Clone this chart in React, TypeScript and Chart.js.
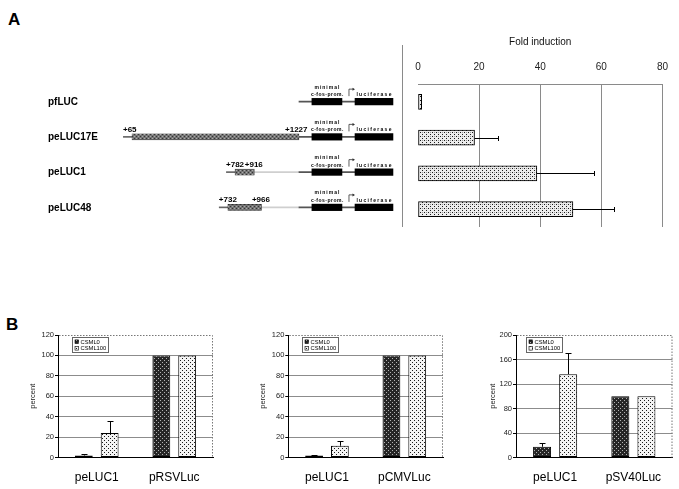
import React, { useEffect, useRef } from 'react';
import { Chart, registerables } from 'chart.js';

Chart.register(...registerables);
Chart.defaults.font.family = 'Arial, "Liberation Sans", sans-serif';

// ---------------- Panel A data ----------------
const constructs = ['pfLUC', 'peLUC17E', 'peLUC1', 'peLUC48'];
const fragmentStart: (number | null)[] = [null, 65, 782, 732];
const fragmentEnd: (number | null)[] = [null, 1227, 916, 966];
const junction = 1227; // schematic position where the insert meets the vector
const promoterSpan = [1317, 1526]; // schematic units
const luciferaseSpan = [1617, 1881]; // schematic units
const foldInduction = [1.2, 18.5, 38.9, 50.7];
const foldError = [0, 7.6, 18.8, 13.3];
const foldTicks = [0, 20, 40, 60, 80];

// ---------------- Panel B data ----------------
const seriesNames = ['CSML0', 'CSML100'];
const b1Categories = ['peLUC1', 'pRSVLuc'];
const b1CSML0 = [2, 100];
const b1CSML100 = [24, 100];
const b1Err0 = [1, 0];
const b1Err100 = [11.5, 0];

const b2Categories = ['peLUC1', 'pCMVLuc'];
const b2CSML0 = [2, 100];
const b2CSML100 = [11.5, 100];
const b2Err0 = [0.8, 0];
const b2Err100 = [5, 0];

const b3Categories = ['peLUC1', 'pSV40Luc'];
const b3CSML0 = [17.5, 100];
const b3CSML100 = [136, 100];
const b3Err0 = [5.5, 0];
const b3Err100 = [34, 0];

const percentTicks120 = [0, 20, 40, 60, 80, 100, 120];
const percentTicks200 = [0, 40, 80, 120, 160, 200];

const FONT = 'Arial, "Liberation Sans", sans-serif';

function makePattern(ctx: CanvasRenderingContext2D, bg: string, dots: [number, number, string][], size = 4) {
  const c = document.createElement('canvas');
  c.width = size;
  c.height = size;
  const g = c.getContext('2d')!;
  g.fillStyle = bg;
  g.fillRect(0, 0, size, size);
  dots.forEach(([x, y, col]) => {
    g.fillStyle = col;
    g.fillRect(x, y, 1, 1);
  });
  return ctx.createPattern(c, 'repeat')!;
}

function lightDots(ctx: CanvasRenderingContext2D) {
  return makePattern(ctx, '#f4f4f4', [[0, 0, '#1a1a1a'], [2, 2, '#1a1a1a']]);
}
function foldDots(ctx: CanvasRenderingContext2D) {
  return makePattern(ctx, '#ececec', [[0, 0, '#1a1a1a'], [2, 2, '#1a1a1a'], [2, 0, '#9a9a9a']]);
}
function darkDots(ctx: CanvasRenderingContext2D) {
  return makePattern(ctx, '#262626', [[0, 0, '#b4b4b4'], [2, 2, '#b4b4b4']]);
}
function hatchGray(ctx: CanvasRenderingContext2D) {
  return makePattern(ctx, '#747474', [[0, 0, '#363636'], [2, 2, '#363636'], [2, 0, '#aaaaaa'], [0, 2, '#aaaaaa']]);
}

function ChartBox(props: { left: number; top: number; width: number; height: number; build: (ctx: CanvasRenderingContext2D) => any }) {
  const ref = useRef<HTMLCanvasElement>(null);
  useEffect(() => {
    const canvas = ref.current!;
    const chart = new Chart(canvas, props.build(canvas.getContext('2d')!));
    return () => chart.destroy();
  }, []);
  return (
    <canvas
      ref={ref}
      width={props.width}
      height={props.height}
      style={{ position: 'absolute', left: props.left, top: props.top, width: props.width, height: props.height }}
    />
  );
}

// ---------------- Panel A: schematic ----------------
function buildSchematic(ctx: CanvasRenderingContext2D) {
  const hatch = hatchGray(ctx);
  const leadIn = 60;
  const labelsPlugin = {
    id: 'schematicLabels',
    afterDatasetsDraw(chart: any) {
      const { ctx: c, chartArea, scales } = chart;
      const x = scales.x;
      const y = scales.y;
      c.save();
      constructs.forEach((name: string, i: number) => {
        const cy = y.getPixelForValue(i);
        c.fillStyle = '#000';
        c.font = `bold 10px ${FONT}`;
        c.textAlign = 'left';
        c.textBaseline = 'middle';
        (c as any).letterSpacing = '0px';
        c.fillText(name, chartArea.left, cy + 0.5);

        const s = fragmentStart[i];
        const e = fragmentEnd[i];
        if (s != null && e != null) {
          c.font = `bold 8px ${FONT}`;
          c.textBaseline = 'alphabetic';
          c.textAlign = 'left';
          c.fillText('+' + s, x.getPixelForValue(s) - 9, cy - 5);
          c.textAlign = 'right';
          c.fillText('+' + e, x.getPixelForValue(e) + 8.5, cy - 5);
        }

        c.font = `bold 5px ${FONT}`;
        c.textAlign = 'center';
        c.textBaseline = 'middle';
        const pc = x.getPixelForValue((promoterSpan[0] + promoterSpan[1]) / 2);
        const lc = x.getPixelForValue((luciferaseSpan[0] + luciferaseSpan[1]) / 2);
        (c as any).letterSpacing = '1px';
        c.fillText('minimal', pc + 0.5, cy - 14.3);
        (c as any).letterSpacing = '0.5px';
        c.fillText('c-fos-prom.', pc + 0.5, cy - 6.8);
        (c as any).letterSpacing = '1.3px';
        c.fillText('luciferase', lc + 0.6, cy - 6.8);
        (c as any).letterSpacing = '0px';

        // promoter arrow
        const ax = x.getPixelForValue((promoterSpan[1] + luciferaseSpan[0]) / 2) + 0.5;
        c.strokeStyle = '#333';
        c.lineWidth = 0.8;
        c.beginPath();
        c.moveTo(ax, cy - 5.5);
        c.lineTo(ax, cy - 12.5);
        c.lineTo(ax + 5, cy - 12.5);
        c.stroke();
        c.beginPath();
        c.moveTo(ax + 6, cy - 12.5);
        c.lineTo(ax + 3.5, cy - 14);
        c.lineTo(ax + 3.5, cy - 11);
        c.closePath();
        c.fillStyle = '#333';
        c.fill();
      });
      c.restore();
    },
  };

  const box = (data: any[], color: any, thickness: number, border = 0) => ({
    data,
    backgroundColor: color,
    borderColor: '#222',
    borderWidth: border,
    borderSkipped: false,
    barThickness: thickness,
    grouped: false,
  });

  return {
    type: 'bar',
    data: {
      labels: constructs,
      datasets: [
        box(constructs.map((_, i) => (fragmentStart[i] == null ? null : [fragmentStart[i], fragmentEnd[i]])), hatch, 6, 0.5),
        box(constructs.map(() => [promoterSpan[0], promoterSpan[1]]), '#000', 6.5),
        box(constructs.map(() => [luciferaseSpan[0], luciferaseSpan[1]]), '#000', 6.5),
        box(constructs.map(() => [junction, luciferaseSpan[0]]), '#555', 1),
        box(
          constructs.map((_, i) => (fragmentEnd[i] == null || (fragmentEnd[i] as number) >= junction ? null : [fragmentEnd[i], junction])),
          '#cfcfcf',
          1
        ),
        box(constructs.map((_, i) => (fragmentStart[i] == null ? null : [(fragmentStart[i] as number) - leadIn, fragmentStart[i]])), '#666', 1),
      ],
    },
    options: {
      indexAxis: 'y',
      responsive: false,
      animation: false,
      events: [],
      layout: { padding: { left: 48, right: 0, top: 84, bottom: 15 } },
      plugins: { legend: { display: false }, tooltip: { enabled: false } },
      scales: {
        x: { type: 'linear', min: -519.5, max: 1930, display: false },
        y: { type: 'category', display: false },
      },
    },
    plugins: [labelsPlugin],
  };
}

// ---------------- Panel A: fold induction ----------------
function buildFold(ctx: CanvasRenderingContext2D) {
  const pat = foldDots(ctx);
  const plugin = {
    id: 'foldExtras',
    beforeDraw(chart: any) {
      const { ctx: c, chartArea } = chart;
      c.save();
      c.strokeStyle = '#8a8a8a';
      c.lineWidth = 1;
      c.beginPath();
      c.moveTo(chartArea.left - 15.5, 45);
      c.lineTo(chartArea.left - 15.5, chartArea.bottom);
      c.stroke();
      c.restore();
    },
    afterDatasetsDraw(chart: any) {
      const { ctx: c } = chart;
      const x = chart.scales.x;
      const meta = chart.getDatasetMeta(0);
      c.save();
      c.strokeStyle = '#000';
      c.lineWidth = 1;
      meta.data.forEach((bar: any, i: number) => {
        const e = foldError[i];
        if (!e) return;
        const x0 = x.getPixelForValue(foldInduction[i]);
        const x1 = Math.round(x.getPixelForValue(foldInduction[i] + e)) + 0.5;
        const yy = Math.round(bar.y) + 0.5;
        c.beginPath();
        c.moveTo(x0, yy);
        c.lineTo(x1, yy);
        c.moveTo(x1, yy - 2.5);
        c.lineTo(x1, yy + 2.5);
        c.stroke();
      });
      c.restore();
    },
  };
  return {
    type: 'bar',
    data: {
      labels: constructs,
      datasets: [
        {
          data: foldInduction,
          backgroundColor: pat,
          borderColor: '#000',
          borderWidth: 1,
          borderSkipped: false,
          barThickness: 15,
        },
      ],
    },
    options: {
      indexAxis: 'y',
      responsive: false,
      animation: false,
      events: [],
      layout: { padding: { left: 18, right: 16, top: 0, bottom: 13 } },
      plugins: { legend: { display: false }, tooltip: { enabled: false } },
      scales: {
        x: {
          type: 'linear',
          position: 'top',
          min: foldTicks[0],
          max: foldTicks[foldTicks.length - 1],
          afterBuildTicks: (s: any) => {
            s.ticks = foldTicks.map((v) => ({ value: v }));
          },
          afterFit: (s: any) => {
            s.height = 84;
          },
          ticks: { font: { size: 10 }, color: '#222', padding: 11 },
          grid: {
            color: (c: any) => (c.tick && c.tick.value === 0 ? 'rgba(0,0,0,0)' : '#8a8a8a'),
            drawTicks: false,
          },
          border: { display: true, color: '#8a8a8a' },
          title: { display: true, text: 'Fold induction', font: { size: 10 }, color: '#111', padding: { top: 36, bottom: 0 } },
        },
        y: { type: 'category', display: false },
      },
    },
    plugins: [plugin],
  };
}

// ---------------- Panel B ----------------
function buildPercent(
  ctx: CanvasRenderingContext2D,
  categories: string[],
  s0: number[],
  s100: number[],
  e0: number[],
  e100: number[],
  ticks: number[],
  layout: { padLeft: number; yWidth: number; padRight: number; legendOffset: number }
) {
  const dark = darkDots(ctx);
  const light = lightDots(ctx);
  const errs = [e0, e100];
  const yMax = ticks[ticks.length - 1];
  const extras = {
    id: 'percentExtras',
    afterDatasetsDraw(chart: any) {
      const { ctx: c } = chart;
      const y = chart.scales.y;
      c.save();
      c.strokeStyle = '#000';
      c.lineWidth = 1;
      chart.data.datasets.forEach((ds: any, di: number) => {
        const meta = chart.getDatasetMeta(di);
        meta.data.forEach((bar: any, j: number) => {
          const e = errs[di][j];
          if (!e) return;
          const v = ds.data[j];
          const xx = Math.round(bar.x) + 0.5;
          const y0 = y.getPixelForValue(v);
          const y1 = Math.round(y.getPixelForValue(v + e)) + 0.5;
          c.beginPath();
          c.moveTo(xx, y0);
          c.lineTo(xx, y1);
          c.moveTo(xx - 3, y1);
          c.lineTo(xx + 3, y1);
          c.stroke();
        });
      });
      c.restore();
    },
    afterDraw(chart: any) {
      const { ctx: c, chartArea: a } = chart;
      c.save();
      // dotted top and right frame
      c.strokeStyle = '#777';
      c.lineWidth = 1;
      c.setLineDash([1.5, 1.5]);
      c.beginPath();
      c.moveTo(a.left + 1, a.top + 0.5);
      c.lineTo(a.right - 0.5, a.top + 0.5);
      c.lineTo(a.right - 0.5, a.bottom);
      c.stroke();
      c.setLineDash([]);
      // boxed legend
      c.font = `5.8px ${FONT}`;
      const ds = chart.data.datasets;
      const tw = Math.max(...ds.map((d: any) => c.measureText(d.label).width));
      const bx = Math.round(a.left + layout.legendOffset) + 0.5;
      const by = Math.round(a.top + 2) + 0.5;
      const bw = Math.round(tw + 10);
      const bh = 15;
      c.fillStyle = '#fff';
      c.fillRect(bx, by, bw, bh);
      c.strokeStyle = '#666';
      c.strokeRect(bx, by, bw, bh);
      ds.forEach((d: any, i: number) => {
        const ry = by + 4.2 + i * 6.6;
        c.fillStyle = d.backgroundColor;
        c.fillRect(bx + 2.5, ry - 1.8, 3.6, 3.6);
        c.strokeStyle = '#000';
        c.lineWidth = 0.6;
        c.strokeRect(bx + 2.5, ry - 1.8, 3.6, 3.6);
        c.fillStyle = '#000';
        c.textAlign = 'left';
        c.textBaseline = 'middle';
        c.fillText(d.label, bx + 8, ry + 0.3);
      });
      c.restore();
    },
  };
  const ds = (label: string, data: number[], bg: any) => ({
    label,
    data,
    backgroundColor: bg,
    borderColor: '#000',
    borderWidth: 1,
    borderSkipped: false,
    categoryPercentage: 0.667,
    barPercentage: 0.69,
  });
  return {
    type: 'bar',
    data: {
      labels: categories,
      datasets: [ds(seriesNames[0], s0, dark), ds(seriesNames[1], s100, light)],
    },
    options: {
      responsive: false,
      animation: false,
      events: [],
      layout: { padding: { left: layout.padLeft, right: layout.padRight, top: 35, bottom: 0 } },
      plugins: { legend: { display: false }, tooltip: { enabled: false } },
      scales: {
        x: {
          grid: { display: false, drawTicks: false, tickLength: 0 },
          border: { display: true, color: '#000' },
          ticks: { font: { size: 12 }, color: '#000', padding: 12.5 },
          afterFit: (s: any) => {
            s.height = 31.5;
          },
        },
        y: {
          type: 'linear',
          min: ticks[0],
          max: yMax,
          afterBuildTicks: (s: any) => {
            s.ticks = ticks.map((v) => ({ value: v }));
          },
          afterFit: (s: any) => {
            s.width = layout.yWidth;
          },
          ticks: { font: { size: 7.5 }, color: '#222', padding: 1 },
          grid: {
            color: (c: any) => (c.tick && c.tick.value === yMax ? 'rgba(0,0,0,0)' : '#8c8c8c'),
            tickColor: '#000',
            tickLength: 3,
          },
          border: { display: true, color: '#000' },
          title: { display: true, text: 'percent', font: { size: 7.5 }, color: '#222', padding: { top: 8.5, bottom: 0 } },
        },
      },
    },
    plugins: [extras],
  };
}

const letterStyle: React.CSSProperties = {
  position: 'absolute',
  fontFamily: FONT,
  fontWeight: 'bold',
  fontSize: 17,
  lineHeight: '17px',
  color: '#000',
};

export default function App() {
  return (
    <div style={{ position: 'absolute', left: 0, top: 0, width: 679, height: 489, background: '#fff', overflow: 'hidden' }}>
      <div style={{ ...letterStyle, left: 8, top: 11 }}>A</div>
      <div style={{ ...letterStyle, left: 6, top: 316 }}>B</div>
      <ChartBox left={0} top={0} width={400} height={240} build={buildSchematic} />
      <ChartBox left={400} top={0} width={279} height={240} build={buildFold} />
      <ChartBox
        left={0}
        top={300}
        width={230}
        height={189}
        build={(ctx) =>
          buildPercent(ctx, b1Categories, b1CSML0, b1CSML100, b1Err0, b1Err100, percentTicks120, {
            padLeft: 20,
            yWidth: 38,
            padRight: 17,
            legendOffset: 14,
          })
        }
      />
      <ChartBox
        left={230}
        top={300}
        width={230}
        height={189}
        build={(ctx) =>
          buildPercent(ctx, b2Categories, b2CSML0, b2CSML100, b2Err0, b2Err100, percentTicks120, {
            padLeft: 20,
            yWidth: 38.3,
            padRight: 17,
            legendOffset: 14,
          })
        }
      />
      <ChartBox
        left={460}
        top={300}
        width={219}
        height={189}
        build={(ctx) =>
          buildPercent(ctx, b3Categories, b3CSML0, b3CSML100, b3Err0, b3Err100, percentTicks200, {
            padLeft: 20,
            yWidth: 36,
            padRight: 6.5,
            legendOffset: 10,
          })
        }
      />
    </div>
  );
}
